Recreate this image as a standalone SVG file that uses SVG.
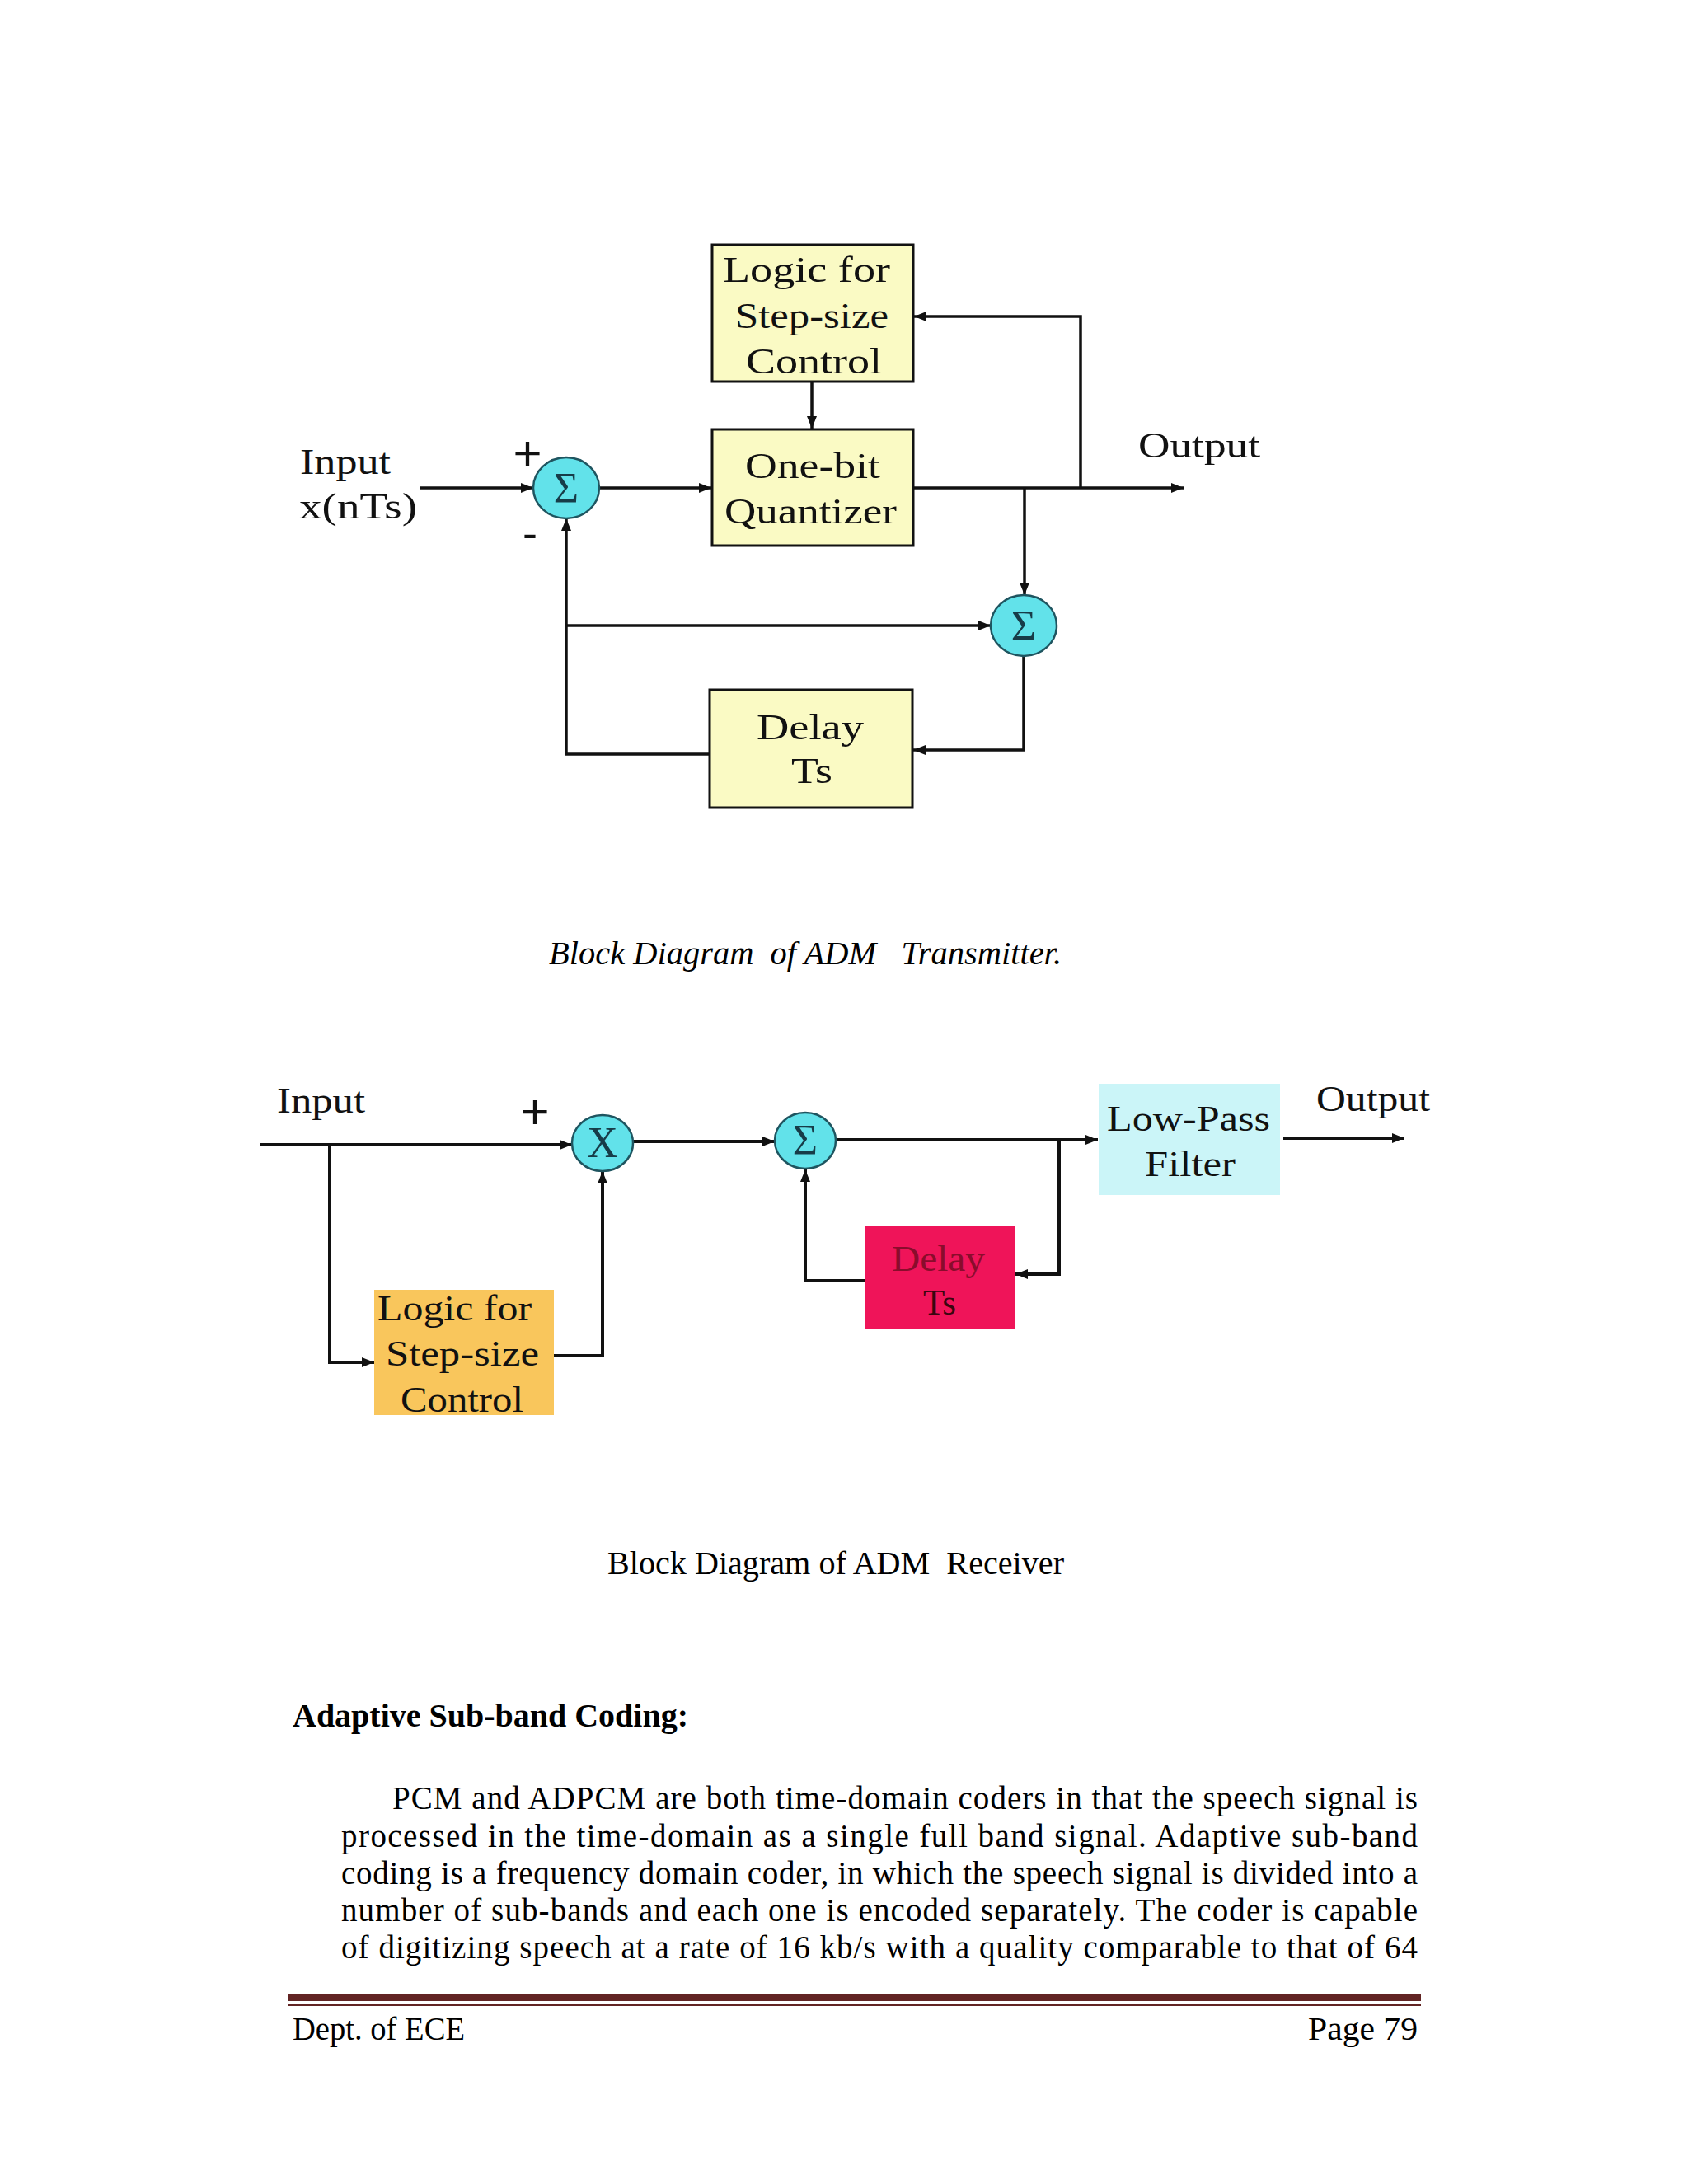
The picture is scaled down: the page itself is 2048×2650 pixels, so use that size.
<svg xmlns="http://www.w3.org/2000/svg" width="2048" height="2650" viewBox="0 0 2048 2650">
<defs>
<style>
.bg{fill:#ffffff}
.lbl{font-family:'Liberation Serif',Tinos,'Times New Roman',serif;font-size:44px;fill:#111}
.blk{fill:#fafac4;stroke:#111;stroke-width:3}
.sum{fill:#62e2ea;stroke:#1f5560;stroke-width:2.5}
.sym{font-family:'Liberation Serif',Tinos,'Times New Roman',serif;font-size:52px;fill:#173c48;text-anchor:middle}
.pm{font-family:'Liberation Sans',Arial,sans-serif;fill:#111;text-anchor:middle}
.wire{fill:none;stroke:#111;stroke-width:3.5;stroke-linejoin:miter}
.wire2{fill:none;stroke:#111;stroke-width:4;stroke-linejoin:miter}
.cap{font-family:'Liberation Serif',Tinos,'Times New Roman',serif;font-size:40px;fill:#000;white-space:pre}
.body{font-family:'Liberation Serif',Tinos,'Times New Roman',serif;font-size:39px;fill:#000}
.foot{font-family:'Liberation Serif',Tinos,'Times New Roman',serif;font-size:39px;fill:#000}
</style>
<marker id="ah" markerUnits="userSpaceOnUse" markerWidth="16" markerHeight="12" refX="15" refY="6" orient="auto">
<path d="M0,0 L15,6 L0,12 z" fill="#111"/>
</marker>
</defs>
<rect class="bg" x="0" y="0" width="2048" height="2650"/>

<!-- ===== Transmitter ===== -->
<g id="tx-connectors">
<path class="wire" d="M510 592 H647" marker-end="url(#ah)"/>
<path class="wire" d="M727 592 H863" marker-end="url(#ah)"/>
<path class="wire" d="M985 463 V520" marker-end="url(#ah)"/>
<path class="wire" d="M1108 592 H1436" marker-end="url(#ah)"/>
<path class="wire" d="M1311 592 V384 H1109" marker-end="url(#ah)"/>
<path class="wire" d="M1243 592 V722" marker-end="url(#ah)"/>
<path class="wire" d="M687 759 H1202" marker-end="url(#ah)"/>
<path class="wire" d="M1242 796 V910 H1108" marker-end="url(#ah)"/>
<path class="wire" d="M861 915 H687 V629" marker-end="url(#ah)"/>
</g>

<g id="tx-logic">
<rect class="blk" x="864" y="297" width="244" height="166"/>
<text class="lbl" x="877" y="342" textLength="203" lengthAdjust="spacingAndGlyphs">Logic for</text>
<text class="lbl" x="892" y="398" textLength="186" lengthAdjust="spacingAndGlyphs">Step-size</text>
<text class="lbl" x="905" y="453" textLength="165" lengthAdjust="spacingAndGlyphs">Control</text>
</g>

<g id="tx-quantizer">
<rect class="blk" x="864" y="521" width="244" height="141"/>
<text class="lbl" x="904" y="580" textLength="164" lengthAdjust="spacingAndGlyphs">One-bit</text>
<text class="lbl" x="879" y="635" textLength="209" lengthAdjust="spacingAndGlyphs">Quantizer</text>
</g>

<g id="tx-delay">
<rect class="blk" x="861" y="837" width="246" height="143"/>
<text class="lbl" x="918" y="897" textLength="130" lengthAdjust="spacingAndGlyphs">Delay</text>
<text class="lbl" x="960" y="950" textLength="50" lengthAdjust="spacingAndGlyphs">Ts</text>
</g>

<g id="tx-sum1">
<ellipse class="sum" cx="687" cy="592" rx="40" ry="37"/>
<text class="sym" x="687" y="610">Σ</text>
</g>

<g id="tx-sum2">
<ellipse class="sum" cx="1242" cy="759" rx="40" ry="37"/>
<text class="sym" x="1242" y="777">Σ</text>
</g>

<g id="tx-labels">
<text class="lbl" x="364" y="575" textLength="110" lengthAdjust="spacingAndGlyphs">Input</text>
<text class="lbl" x="363" y="629" textLength="143" lengthAdjust="spacingAndGlyphs">x(nTs)</text>
<text class="lbl" x="1381" y="555" textLength="148" lengthAdjust="spacingAndGlyphs">Output</text>
<text class="pm" x="640" y="570" font-size="60">+</text>
<text class="pm" x="643" y="665" font-size="54">-</text>
</g>

<text class="cap" x="666" y="1170" font-style="italic" textLength="622" lengthAdjust="spacingAndGlyphs">Block Diagram  of ADM   Transmitter.</text>

<!-- ===== Receiver ===== -->
<g id="rx-connectors">
<path class="wire2" d="M316 1389 H694" marker-end="url(#ah)"/>
<path class="wire2" d="M767 1385 H940" marker-end="url(#ah)"/>
<path class="wire2" d="M1014 1383 H1332" marker-end="url(#ah)"/>
<path class="wire2" d="M1557 1381 H1704" marker-end="url(#ah)"/>
<path class="wire2" d="M1285 1383 V1546 H1232" marker-end="url(#ah)"/>
<path class="wire2" d="M1050 1554 H977 V1419" marker-end="url(#ah)"/>
<path class="wire2" d="M400 1389 V1653 H454" marker-end="url(#ah)"/>
<path class="wire2" d="M672 1645 H731 V1421" marker-end="url(#ah)"/>
</g>

<g id="rx-mult">
<ellipse class="sum" cx="731" cy="1387" rx="37" ry="34"/>
<text class="sym" x="731" y="1404" font-size="48">X</text>
</g>

<g id="rx-sum">
<ellipse class="sum" cx="977" cy="1384" rx="37" ry="34"/>
<text class="sym" x="977" y="1401" font-size="48">Σ</text>
</g>

<g id="rx-lpf">
<rect x="1333" y="1315" width="220" height="135" fill="#cbf5f8"/>
<text class="lbl" x="1343" y="1372" textLength="198" lengthAdjust="spacingAndGlyphs">Low-Pass</text>
<text class="lbl" x="1389" y="1427" textLength="110" lengthAdjust="spacingAndGlyphs">Filter</text>
</g>

<g id="rx-delay">
<rect x="1050" y="1488" width="181" height="125" fill="#ef1459"/>
<text class="lbl" x="1082" y="1542" textLength="113" lengthAdjust="spacingAndGlyphs" style="fill:#8a0c2c">Delay</text>
<text class="lbl" x="1120" y="1595" textLength="40" lengthAdjust="spacingAndGlyphs" style="fill:#3a0610">Ts</text>
</g>

<g id="rx-logic">
<rect x="454" y="1565" width="218" height="152" fill="#f9c65c"/>
<text class="lbl" x="458" y="1602" textLength="187" lengthAdjust="spacingAndGlyphs">Logic for</text>
<text class="lbl" x="468" y="1657" textLength="186" lengthAdjust="spacingAndGlyphs">Step-size</text>
<text class="lbl" x="486" y="1713" textLength="149" lengthAdjust="spacingAndGlyphs">Control</text>
</g>

<g id="rx-labels">
<text class="lbl" x="336" y="1350" textLength="107" lengthAdjust="spacingAndGlyphs">Input</text>
<text class="lbl" x="1597" y="1348" textLength="138" lengthAdjust="spacingAndGlyphs">Output</text>
<text class="pm" x="649" y="1369" font-size="60">+</text>
</g>

<text class="cap" x="737" y="1910" textLength="554" lengthAdjust="spacingAndGlyphs">Block Diagram of ADM  Receiver</text>

<!-- ===== Body text ===== -->
<text class="body" x="355" y="2095" font-weight="bold" textLength="480" lengthAdjust="spacingAndGlyphs">Adaptive Sub-band Coding:</text>
<text class="body" x="476" y="2195" textLength="1244" lengthAdjust="spacing">PCM and ADPCM are both time-domain coders in that the speech signal is</text>
<text class="body" x="414" y="2241" textLength="1306" lengthAdjust="spacing">processed in the time-domain as a single full band signal. Adaptive sub-band</text>
<text class="body" x="414" y="2286" textLength="1306" lengthAdjust="spacing">coding is a frequency domain coder, in which the speech signal is divided into a</text>
<text class="body" x="414" y="2331" textLength="1306" lengthAdjust="spacing">number of sub-bands and each one is encoded separately. The coder is capable</text>
<text class="body" x="414" y="2376" textLength="1306" lengthAdjust="spacing">of digitizing speech at a rate of 16 kb/s with a quality comparable to that of 64</text>

<!-- ===== Footer ===== -->
<rect x="349" y="2419" width="1375" height="9" fill="#622423"/>
<rect x="349" y="2431" width="1375" height="3" fill="#622423"/>
<text class="foot" x="355" y="2475" textLength="209" lengthAdjust="spacingAndGlyphs">Dept. of ECE</text>
<text class="foot" x="1720" y="2475" text-anchor="end" textLength="133" lengthAdjust="spacingAndGlyphs">Page 79</text>
</svg>
